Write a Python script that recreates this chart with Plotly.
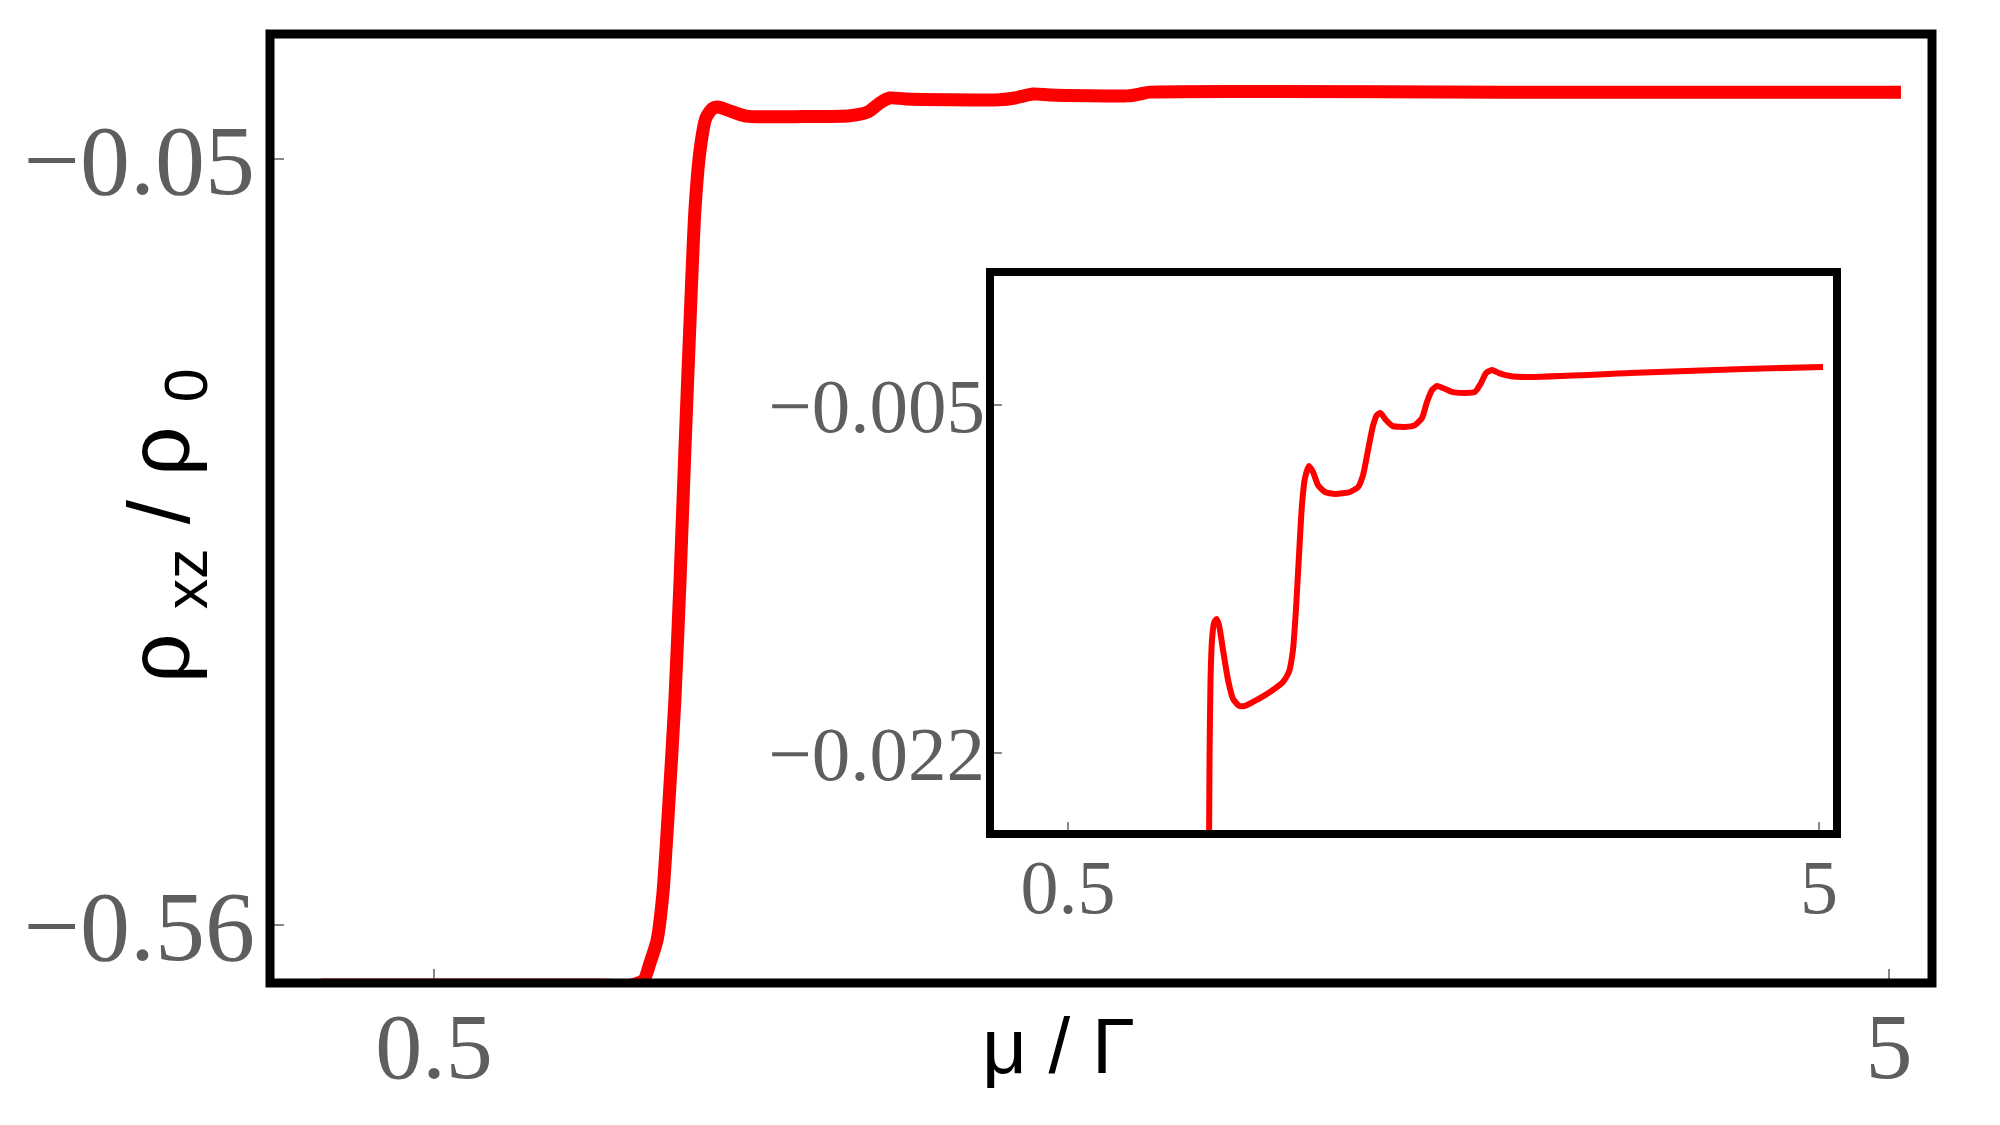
import plotly.graph_objects as go

# ---- data ----
main_x = [0.15, 0.5, 1.0, 1.109, 1.149, 1.168, 1.190, 1.208, 1.227, 1.245, 1.261, 1.276,
          1.292, 1.307, 1.323, 1.341, 1.360, 1.378, 1.415, 1.465, 1.641, 1.787, 1.842,
          1.879, 1.910, 1.957, 2.25, 2.297, 2.353, 2.405, 2.646, 2.684, 2.714, 3.024,
          3.8, 5.037]
main_y = [-0.600, -0.600, -0.600, -0.600, -0.5966, -0.5853, -0.570, -0.539, -0.4768,
          -0.4102, -0.3303, -0.2437, -0.1572, -0.084, -0.044, -0.0227, -0.0167, -0.0154,
          -0.0180, -0.0215, -0.0218, -0.0212, -0.0187, -0.0127, -0.0094, -0.0100, -0.0106,
          -0.0094, -0.0068, -0.0074, -0.0080, -0.0067, -0.0055, -0.0050, -0.0055, -0.0056]

inset_x = [1.345, 1.348, 1.354, 1.363, 1.375, 1.390, 1.405, 1.429, 1.459, 1.489, 1.525,
           1.561, 1.620, 1.710, 1.788, 1.824, 1.848, 1.866, 1.884, 1.902, 1.920, 1.944,
           1.968, 1.998, 2.040, 2.100, 2.190, 2.238, 2.268, 2.298, 2.327, 2.351, 2.372,
           2.405, 2.447, 2.519, 2.579, 2.621, 2.651, 2.681, 2.711, 2.747, 2.801, 2.879,
           2.939, 2.975, 3.005, 3.040, 3.082, 3.148, 3.244, 3.867, 4.550, 5.024]
inset_y = [-0.02674, -0.02234, -0.01843, -0.01648, -0.01565, -0.01545, -0.01575, -0.01697,
           -0.01843, -0.01936, -0.01970, -0.01970, -0.01946, -0.01902, -0.01853, -0.01804,
           -0.01697, -0.01501, -0.01238, -0.00989, -0.00857, -0.00798, -0.00827, -0.00891,
           -0.00925, -0.00935, -0.00925, -0.00901, -0.00842, -0.00720, -0.00603, -0.00549,
           -0.00539, -0.00573, -0.00603, -0.00607, -0.00598, -0.00564, -0.00485, -0.00427,
           -0.00407, -0.00417, -0.00436, -0.00441, -0.00436, -0.00393, -0.00344, -0.00329,
           -0.00344, -0.00358, -0.00363, -0.00344, -0.00324, -0.00314]

main_xticks = [0.5, 5]
main_xticklabels = ["0.5", "5"]
main_yticks = [-0.05, -0.56]
main_yticklabels = ["\u22120.05", "\u22120.56"]
inset_xticks = [0.5, 5]
inset_xticklabels = ["0.5", "5"]
inset_yticks = [-0.005, -0.022]
inset_yticklabels = ["\u22120.005", "\u22120.022"]

# ---- layout geometry (fractions of the 2000x1125 page) ----
W, H = 2000, 1125
main_dom_x = [270 / W, 1932 / W]
main_dom_y = [1 - 983 / H, 1 - 34 / H]
ins_dom_x = [990 / W, 1837 / W]
ins_dom_y = [1 - 834 / H, 1 - 272 / H]

tick_font = dict(family="Liberation Serif", color="#5e5e5e")

fig = go.Figure()
fig.add_trace(go.Scatter(x=main_x, y=main_y, mode="lines",
                         line=dict(color="#ff0000", width=13, shape="spline", smoothing=0.6),
                         xaxis="x", yaxis="y", showlegend=False, hoverinfo="skip"))
fig.add_trace(go.Scatter(x=inset_x, y=inset_y, mode="lines",
                         line=dict(color="#ff0000", width=6, shape="spline", smoothing=0.5),
                         xaxis="x2", yaxis="y2", showlegend=False, hoverinfo="skip"))

fig.update_layout(
    width=W, height=H,
    margin=dict(l=0, r=0, t=0, b=0),
    paper_bgcolor="white", plot_bgcolor="white",
    xaxis=dict(domain=main_dom_x, range=[-0.0072, 5.133], showgrid=False, zeroline=False,
               showline=False, tickmode="array", tickvals=main_xticks, ticktext=main_xticklabels,
               ticks="inside", ticklen=14, tickwidth=2, tickcolor="#888888",
               tickfont=dict(size=94, **tick_font), ticklabelstandoff=0),
    yaxis=dict(domain=main_dom_y, range=[-0.5986, 0.0332], showgrid=False, zeroline=False,
               showline=False, tickmode="array", tickvals=main_yticks, ticktext=main_yticklabels,
               ticks="inside", ticklen=14, tickwidth=2, tickcolor="#888888",
               tickfont=dict(size=100, **tick_font), ticklabelstandoff=14),
    xaxis2=dict(domain=ins_dom_x, range=[0.0327, 5.108], anchor="y2", showgrid=False,
                zeroline=False, showline=False, tickmode="array", tickvals=inset_xticks,
                ticktext=inset_xticklabels, ticks="inside", ticklen=12, tickwidth=2,
                tickcolor="#888888", tickfont=dict(size=76, **tick_font), ticklabelstandoff=2),
    yaxis2=dict(domain=ins_dom_y, range=[-0.02596, 0.0015], anchor="x2", showgrid=False,
                zeroline=False, showline=False, tickmode="array", tickvals=inset_yticks,
                ticktext=inset_yticklabels, ticks="inside", ticklen=12, tickwidth=2,
                tickcolor="#888888", tickfont=dict(size=77, **tick_font), ticklabelstandoff=4),
    shapes=[
        dict(type="rect", xref="paper", yref="paper", x0=main_dom_x[0], x1=main_dom_x[1],
             y0=main_dom_y[0], y1=main_dom_y[1], line=dict(color="black", width=9), layer="above"),
        dict(type="rect", xref="paper", yref="paper", x0=ins_dom_x[0], x1=ins_dom_x[1],
             y0=ins_dom_y[0], y1=ins_dom_y[1], line=dict(color="black", width=8), layer="above"),
    ],
    annotations=[
        dict(text="\u03bc / \u0393", xref="paper", yref="paper", x=1058 / W, y=1 - 1046 / H,
             xanchor="center", yanchor="middle", showarrow=False,
             font=dict(family="Liberation Sans", size=78, color="black")),
        dict(text="\u03c1 <sub>xz</sub> / \u03c1 <sub>0</sub>", xref="paper", yref="paper",
             x=165 / W, y=1 - 526 / H, xanchor="center", yanchor="middle", textangle=-90,
             showarrow=False, font=dict(family="Liberation Sans", size=87, color="black")),
    ],
)

fig.write_html("out.html")
